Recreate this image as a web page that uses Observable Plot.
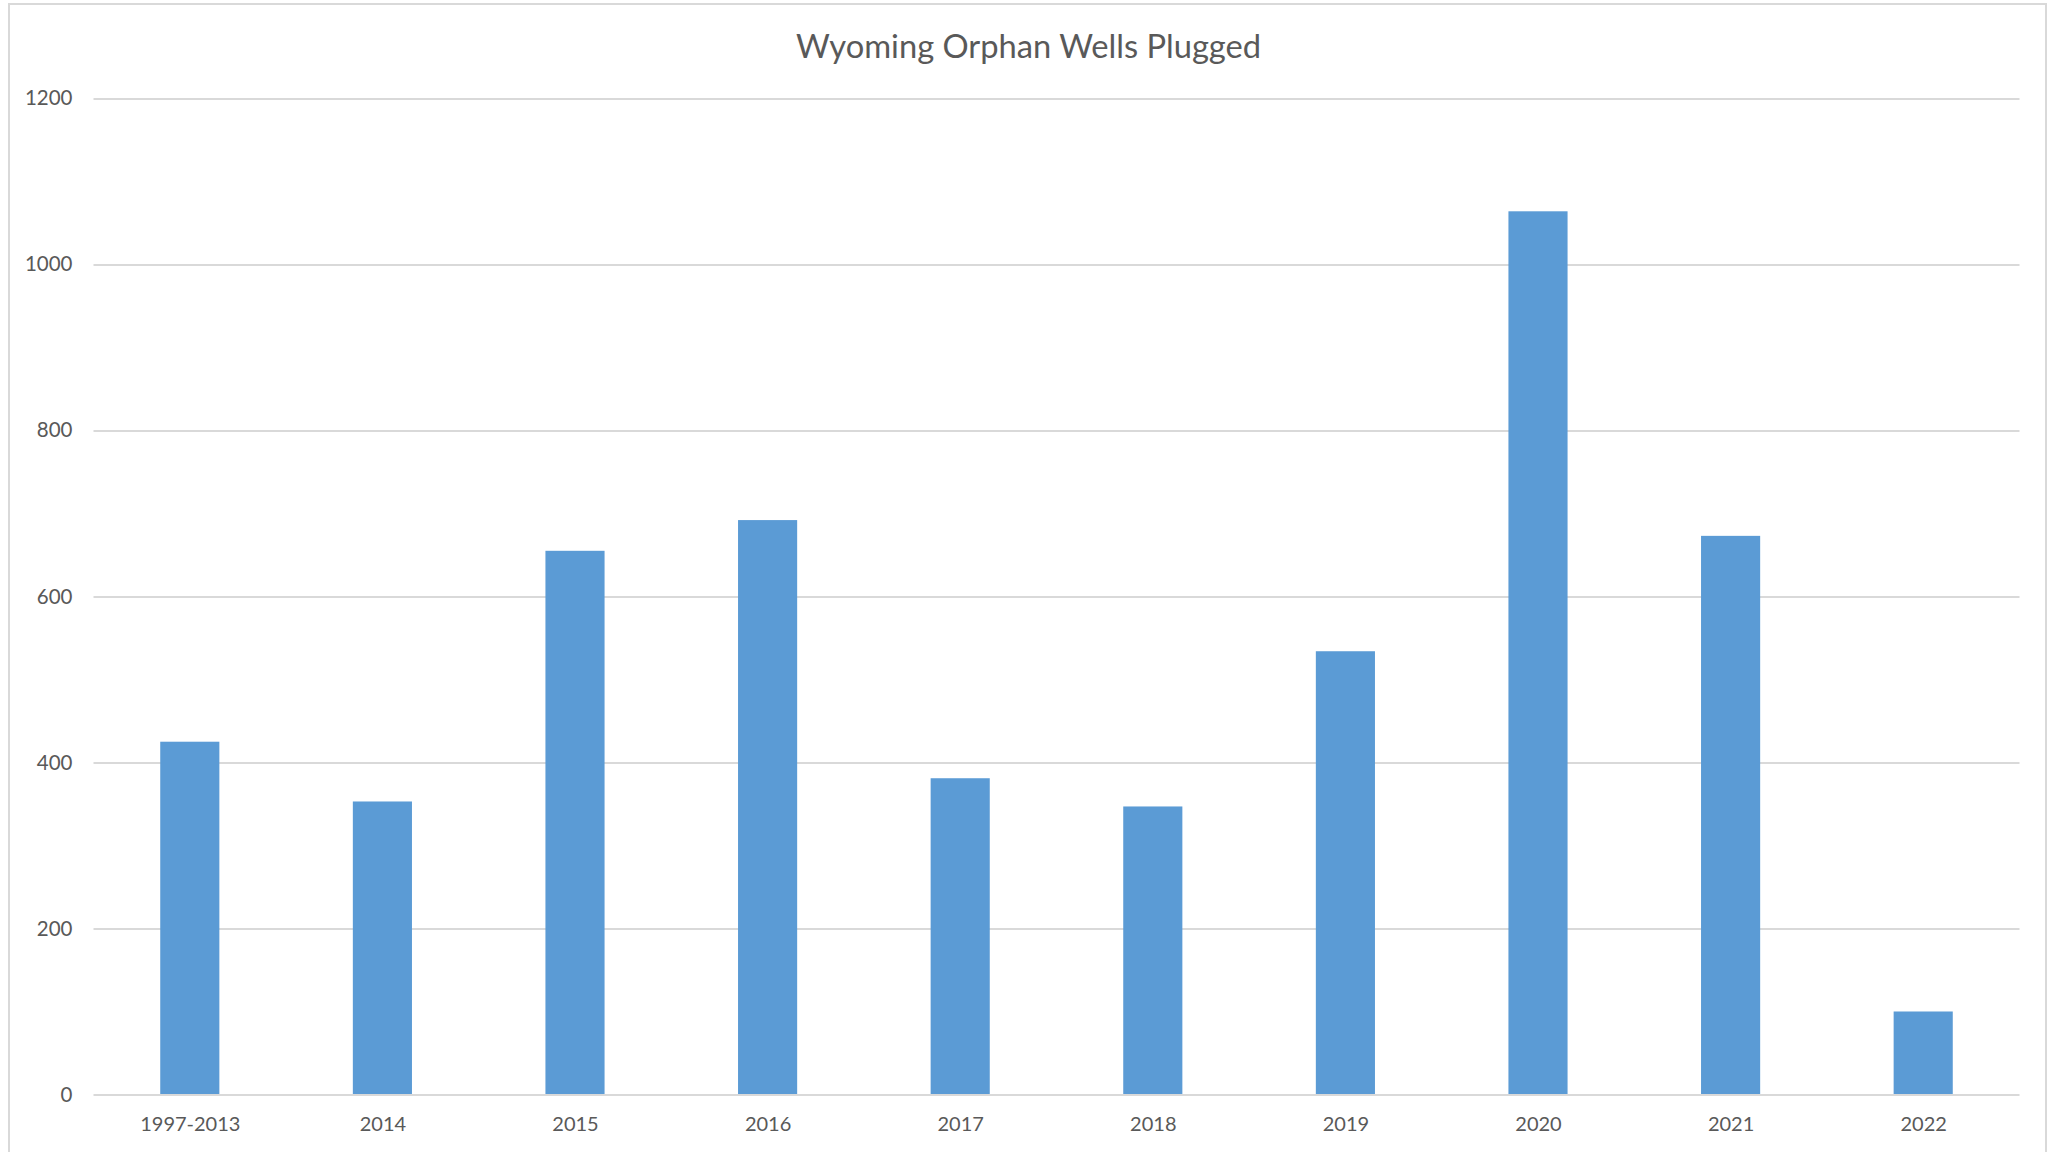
<!DOCTYPE html>
<html>
<head>
<meta charset="utf-8">
<script src="https://cdn.jsdelivr.net/npm/d3@7"></script>
<script src="https://cdn.jsdelivr.net/npm/@observablehq/plot@0.6"></script>
<style>
  html, body { margin: 0; padding: 0; background: #fff; }
  #wrap { position: relative; width: 2057px; height: 1152px; overflow: hidden; background: #fff; }
  #frame { position: absolute; left: 8px; top: 3px; width: 2039px; height: 1200px;
           border: 2px solid #d9d9d9; box-sizing: border-box; pointer-events: none; }
  #title { height: 64px; box-sizing: border-box; padding-top: 30px; line-height: 32px;
           text-align: center; font-family: Lato, "Open Sans", sans-serif; font-size: 32.7px; color: #595959; }
</style>
</head>
<body>
<div id="wrap">
  <div id="frame"></div>
  <div id="title">Wyoming Orphan Wells Plugged</div>
  <div id="chart"></div>
</div>
<script>
const categories = ["1997-2013", "2014", "2015", "2016", "2017", "2018", "2019", "2020", "2021", "2022"];
const wellsPlugged = [425, 353, 655, 692, 381, 347, 534, 1064, 673, 100];
const yTicks = [0, 200, 400, 600, 800, 1000, 1200];

const data = categories.map((c, i) => ({category: c, value: wellsPlugged[i]}));

const chart = Plot.plot({
  width: 2057,
  height: 1088,
  marginTop: 34.4,
  marginBottom: 57.5,
  marginLeft: 93.5,
  marginRight: 37.5,
  style: {fontFamily: "Lato, 'Open Sans', sans-serif", fontSize: "20px", color: "#595959", background: "#fff"},
  x: {domain: categories, paddingInner: 0.693, paddingOuter: 0.3465, round: false, label: null},
  y: {domain: [0, 1200], label: null},
  marks: [
    Plot.ruleY(yTicks.filter(d => d > 0), {stroke: "#d9d9d9", strokeWidth: 2}),
    Plot.barY(data, {x: "category", y: "value", fill: "#5b9bd5"}),
    Plot.ruleY([0], {stroke: "#d9d9d9", strokeWidth: 2}),
    Plot.axisY({ticks: yTicks, tickSize: 0, tickPadding: 21.5, tickFormat: d => String(d), fill: "#595959", fontSize: 20.5, label: null}),
    Plot.axisX({tickSize: 0, tickPadding: 21.5, fill: "#595959", label: null})
  ]
});
document.getElementById("chart").appendChild(chart);
</script>
</body>
</html>
